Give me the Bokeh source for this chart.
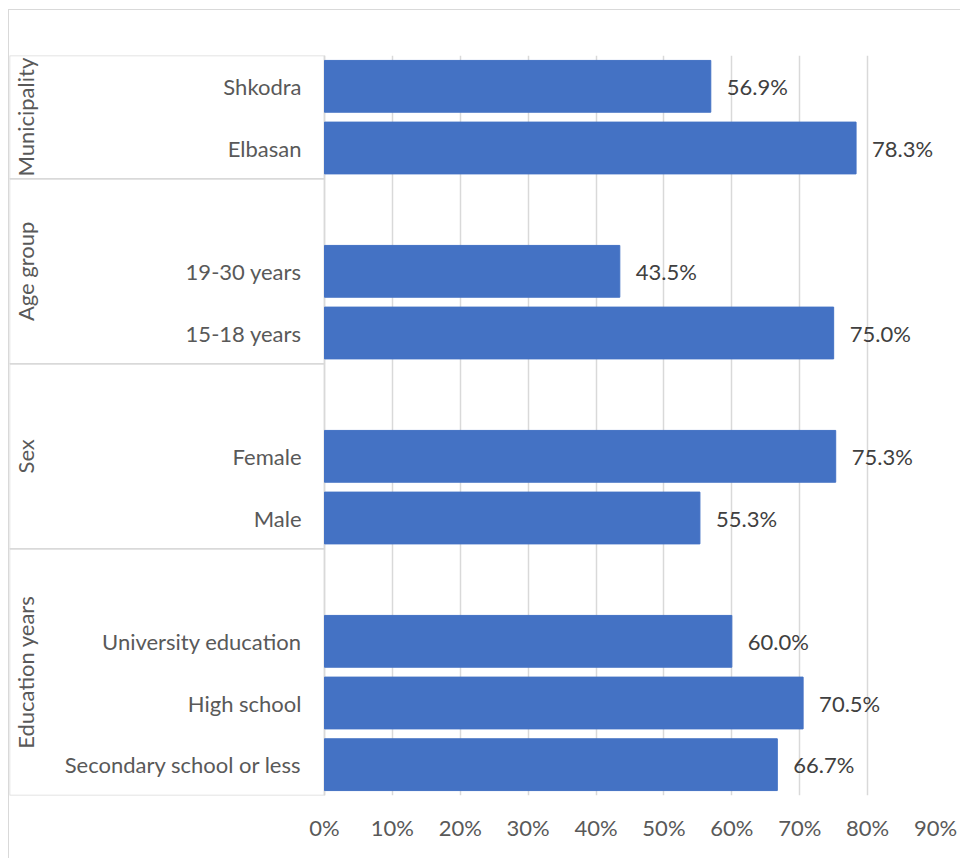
import math
from bokeh.plotting import figure
from bokeh.models import (FactorRange, Range1d, FixedTicker, NumeralTickFormatter,
                          ColumnDataSource)
from bokeh.core.properties import value
from bokeh.embed import file_html
from bokeh.resources import INLINE

# ---- data (top to bottom as in the chart) ----
groups = ["Municipality", "Municipality",
          "Age group", "Age group", "Age group",
          "Sex", "Sex", "Sex",
          "Education years", "Education years", "Education years", "Education years"]
categories = ["Shkodra", "Elbasan",
              "", "19-30 years", "15-18 years",
              "", "Female", "Male",
              "", "University education", "High school", "Secondary school or less"]
values = [0.569, 0.783,
          None, 0.435, 0.750,
          None, 0.753, 0.553,
          None, 0.600, 0.705, 0.667]
group_names = ["Municipality", "Age group", "Sex", "Education years"]
x_ticks = [0, 0.1, 0.2, 0.3, 0.4, 0.5, 0.6, 0.7, 0.8, 0.9]

FONT = "Lato"
FS = "22px"
BAR = "#4472C4"
GRID = "#d9d9d9"
TXT = "#595959"
CAT_W = 0.464   # width of the category-label area, in axis units left of 0%

factors = [(g, c) for g, c in zip(groups, categories)][::-1]

bar_y, bar_x, bar_lbl = [], [], []
for g, c, v in zip(groups, categories, values):
    if v is not None:
        bar_y.append((g, c))
        bar_x.append(v)
        bar_lbl.append(f"{v*100:.1f}%")
src = ColumnDataSource(dict(y=bar_y, x=bar_x, lbl=bar_lbl))

cat_src = ColumnDataSource(dict(y=[(g, c) for g, c in zip(groups, categories)],
                                x=[0] * len(categories), t=categories))
grp_src = ColumnDataSource(dict(
    y=group_names,
    n=[groups.count(g) for g in group_names],
    xl=[-CAT_W] * len(group_names),
    xc=[-CAT_W / 2] * len(group_names),
))

p = figure(width=952, height=849, output_backend="svg", toolbar_location=None,
           y_range=FactorRange(factors=factors, group_padding=0, factor_padding=0,
                               range_padding=0),
           x_range=Range1d(-CAT_W, 0.9),
           min_border_left=0, min_border_right=26, min_border_top=45,
           min_border_bottom=64,
           styles={"margin-left": "8px", "margin-top": "9px",
                   "border-left": f"1px solid {GRID}",
                   "border-top": f"1px solid {GRID}"})
p.outline_line_color = None
p.background_fill_color = "white"
p.border_fill_color = "white"

# category box per group
p.rect(x="xc", y="y", width=CAT_W, height="n", source=grp_src,
       fill_color=None, line_color=GRID, line_width=1.5)

p.hbar(y="y", right="x", left=0, height=0.84, source=src, color=BAR, line_color=BAR)
p.text(x="x", y="y", text="lbl", source=src, x_offset=16, text_align="left",
       text_baseline="middle", text_font=value(FONT), text_font_size=FS,
       text_color="#404040")

# category labels
p.text(x="x", y="y", text="t", source=cat_src, x_offset=-23, text_align="right",
       text_baseline="middle", text_font=value(FONT), text_font_size=FS,
       text_color=TXT)
# group labels (vertical)
p.text(x="xl", y="y", text="y", source=grp_src, x_offset=16, angle=math.pi / 2,
       text_align="center", text_baseline="middle", text_font=value(FONT),
       text_font_size=FS, text_color=TXT)

# x axis
xa = p.xaxis[0]
xa.ticker = FixedTicker(ticks=x_ticks)
xa.formatter = NumeralTickFormatter(format="0%")
xa.axis_line_color = None
xa.major_tick_line_color = None
xa.minor_tick_line_color = None
xa.major_label_standoff = 12
xa.major_label_text_font = FONT
xa.major_label_text_font_size = FS
xa.major_label_text_color = TXT

p.yaxis.visible = False

p.xgrid.grid_line_color = GRID
p.xgrid.grid_line_width = 1.5
p.xgrid.ticker = FixedTicker(ticks=x_ticks)
p.ygrid.grid_line_color = None

open("out.html", "w").write(file_html(p, INLINE))
